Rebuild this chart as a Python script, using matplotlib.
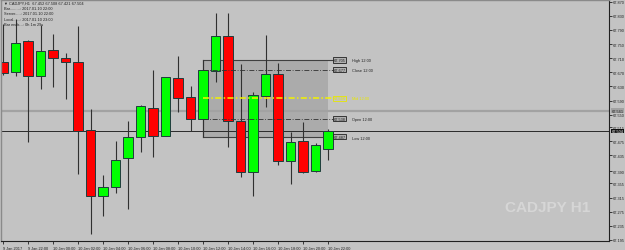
import numpy as np
import matplotlib.pyplot as plt
from matplotlib.patches import Rectangle
import matplotlib.transforms as mtransforms

# CADJPY H1, 9 Jan 20:00 .. 10 Jan 22:00
opens  = [67.699, 67.671, 67.759, 67.660, 67.733, 67.711, 67.699, 67.507, 67.320, 67.345,
          67.427, 67.487, 67.569, 67.490, 67.654, 67.600, 67.538, 67.674, 67.773, 67.532,
          67.388, 67.603, 67.665, 67.419, 67.475, 67.390, 67.452]
highs  = [67.807, 67.821, 67.761, 67.804, 67.779, 67.725, 67.801, 67.566, 67.379, 67.475,
          67.532, 67.577, 67.677, 67.658, 67.716, 67.631, 67.705, 67.838, 67.838, 67.694,
          67.614, 67.776, 67.696, 67.501, 67.529, 67.470, 67.508]
lows   = [67.662, 67.660, 67.473, 67.623, 67.628, 67.594, 67.382, 67.212, 67.263, 67.328,
          67.283, 67.444, 67.430, 67.489, 67.558, 67.504, 67.487, 67.643, 67.458, 67.373,
          67.320, 67.572, 67.407, 67.354, 67.386, 67.387, 67.421]
closes = [67.668, 67.753, 67.660, 67.730, 67.711, 67.699, 67.504, 67.320, 67.345, 67.422,
          67.487, 67.575, 67.490, 67.657, 67.597, 67.538, 67.677, 67.773, 67.532, 67.388,
          67.606, 67.665, 67.419, 67.473, 67.388, 67.464, 67.504]

tick_prices = [67.870, 67.830, 67.790, 67.750, 67.710, 67.670, 67.630, 67.590, 67.550,
               67.515, 67.475, 67.435, 67.390, 67.355, 67.315, 67.275, 67.235, 67.195]
time_bars = [0, 2, 4, 6, 8, 10, 12, 14, 16, 18, 20, 22, 24, 26]
time_labels = ['9 Jan 2017', '9 Jan 22:00', '10 Jan 00:00', '10 Jan 02:00', '10 Jan 04:00',
               '10 Jan 06:00', '10 Jan 08:00', '10 Jan 10:00', '10 Jan 12:00', '10 Jan 14:00',
               '10 Jan 16:00', '10 Jan 18:00', '10 Jan 20:00', '10 Jan 22:00']

box_bar = 16          # the 12:00 candle
box_hour = '12:00'
bid_price = 67.504
grey_level = 67.561

info_lines = ['CADJPY,H1  67.452 67.508 67.421 67.504',
              'Bar.........: 2017.01.10 22:00',
              'Server.....: 2017.01.10 22:00',
              'Local......: 2017.01.10 23:00',
              'Bar ends...: 0h 1m 29s']

small = ['Liberation Sans', 'DejaVu Sans']
fs = 2.8
bg = '#c3c3c3'
fig = plt.figure(figsize=(6.25, 2.51), dpi=100, facecolor=bg)
ax = fig.add_axes([1/625, 9/251, 608/625, 241/251], facecolor=bg)
ax.set_xlim(-0.16, 48.48)
ax.set_ylim(67.1921, 67.8748)

x = np.arange(len(opens))
o = np.array(opens); c = np.array(closes)
up = c >= o

# box of the 12:00 candle
bh, bl = highs[box_bar], lows[box_bar]
bo, bc = opens[box_bar], closes[box_bar]
bm = (bh + bl) / 2
x_end = len(opens) - 1
ax.add_patch(Rectangle((box_bar, bl), x_end - box_bar, bh - bl,
                       facecolor='#ababab', edgecolor='none', zorder=0.5))
lab_x = x_end + 0.4
ax.plot([box_bar, lab_x], [bh, bh], color='#404040', lw=0.8, zorder=0.8)
ax.plot([box_bar, lab_x], [bl, bl], color='#404040', lw=0.8, zorder=0.8)
ax.plot([box_bar, box_bar], [bl, bh], color='#404040', lw=0.8, zorder=0.8)
for lv in [bc, bo]:
    ax.plot([box_bar, lab_x], [lv, lv], color='#303030', lw=0.6, dashes=[6, 2, 1, 2], zorder=2.5)
ax.plot([box_bar, lab_x], [bm, bm], color='#f2f200', lw=1.1, dashes=[4, 1.5, 1, 1.5], zorder=2.6)

names = ['High', 'Close', 'Mid', 'Open', 'Low']
levels = [bh, bc, bm, bo, bl]
for nm, lv in zip(names, levels):
    col = '#e8e800' if nm == 'Mid' else '#202020'
    ax.text(lab_x + 0.05, lv, '%.3f' % lv, fontsize=fs, family=small, color=col,
            va='center', ha='left',
            bbox=dict(boxstyle='square,pad=0.15', fc='#b0b0b0' if nm != 'Mid' else 'none',
                      ec=col, lw=0.6), zorder=3)
    ax.text(lab_x + 1.5, lv - 0.004 * (nm == 'Low'), nm + ' ' + box_hour, fontsize=fs,
            family=small, color=col, va='center', ha='left', zorder=3)

# horizontal lines across the chart
ax.axhline(grey_level, color='#a2a2a2', lw=1.6, zorder=0.6)
ax.axhline(bid_price, color='#2a2a2a', lw=0.7, zorder=0.7)

# candles
ax.vlines(x, lows, highs, colors='#303030', lw=0.8, zorder=1)
ax.bar(x[up], (c - o)[up], bottom=o[up], width=0.75, color='#00ff00',
       edgecolor='#1e3c3c', lw=0.7, zorder=2)
ax.bar(x[~up], (o - c)[~up], bottom=c[~up], width=0.75, color='#ff0000',
       edgecolor='#1e3c3c', lw=0.7, zorder=2)

# axes
ax.yaxis.tick_right()
ax.set_yticks(tick_prices)
ax.set_yticklabels(['%.3f' % t for t in tick_prices], fontsize=fs, family=small, color='#202020')
ax.set_xticks(time_bars)
ax.set_xticklabels(time_labels, fontsize=fs, family=small, color='#202020', ha='left')
ax.tick_params(axis='both', direction='out', length=2, width=0.6, pad=1, colors='#202020')
ax.tick_params(axis='x', pad=1.5)
for s in ['right', 'bottom']:
    ax.spines[s].set_color('#202020')
    ax.spines[s].set_linewidth(0.8)
for s in ['top', 'left']:
    ax.spines[s].set_color('#8a8a8a')
    ax.spines[s].set_linewidth(1.0)

trans = mtransforms.blended_transform_factory(ax.transAxes, ax.transData)
ax.text(1.004, bid_price, '%.3f' % bid_price, transform=trans, fontsize=fs, family=small,
        color='white', va='center', ha='left',
        bbox=dict(boxstyle='square,pad=0.1', fc='#101010', ec='none'), zorder=5, clip_on=False)
ax.text(1.004, grey_level, '%.3f' % grey_level, transform=trans, fontsize=fs, family=small,
        color='#202020', va='center', ha='left',
        bbox=dict(boxstyle='square,pad=0.1', fc='#a2a2a2', ec='none'), zorder=5, clip_on=False)

# info block, top left
for k, line in enumerate(info_lines):
    prefix = '\u25BC ' if k == 0 else ''
    fig.text(4/625, 1 - (4 + 5.2 * k) / 251, prefix + line, fontsize=fs, family=small,
             color='#202020', va='center', ha='left')

# watermark
fig.text(590/625, 1 - 208/251, 'CADJPY H1', fontsize=11, fontweight='bold',
         family=['Liberation Sans Narrow', 'Liberation Sans', 'DejaVu Sans'],
         color='#d6d6d6', ha='right', va='center')

fig.savefig('out.png', dpi=100, facecolor=bg)
